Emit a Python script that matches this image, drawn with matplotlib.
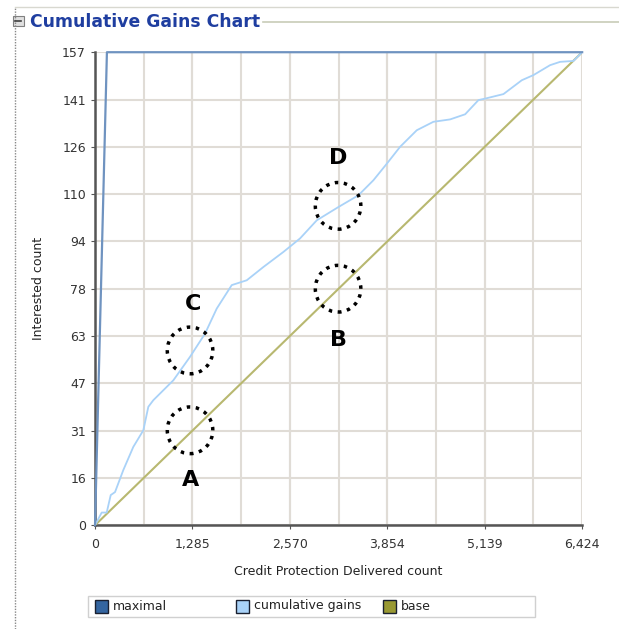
import matplotlib.pyplot as plt
from matplotlib.patches import Ellipse, Rectangle
from matplotlib.lines import Line2D
import numpy as np

# data
total_x = 6424
total_y = 157
maximal_x = [0, 157, 6424]
maximal_y = [0, 157, 157]
base_x = [0, 6424]
base_y = [0, 157]
gains_x = [0, 88, 154, 207, 264, 373, 505, 637, 703, 769, 1033, 1253, 1451, 1605,
           1803, 2001, 2220, 2484, 2704, 2924, 3209, 3473, 3671, 3848, 4023, 4243,
           4462, 4683, 4881, 5056, 5144, 5386, 5628, 5781, 6001, 6133, 6309, 6424]
gains_y = [0, 4.2, 4.2, 10, 11, 18.3, 26, 31.5, 39.3, 41.5, 48.1, 55.9, 63.6, 71.9,
           79.7, 81.3, 85.7, 90.7, 95.2, 101.2, 105.6, 109.5, 114.5, 120.0, 125.6, 131.1,
           133.9, 134.7, 136.4, 141.1, 141.6, 143.1, 147.7, 149.4, 152.7, 153.8, 154.1, 157]
x_ticks = [0, 1285, 2570, 3854, 5139, 6424]
x_tick_labels = ['0', '1,285', '2,570', '3,854', '5,139', '6,424']
y_tick_labels = ['0', '16', '31', '47', '63', '78', '94', '110', '126', '141', '157']
series_names = ['maximal', 'cumulative gains', 'base']
legend_colors = ['#3465a0', '#a9d2f8', '#999933']

# marked spots on the chart (label, circle centre, label position)
marks = [
    ('A', 1253, 31.5, 1253, 15.0),
    ('B', 3205, 78.5, 3205, 61.5),
    ('C', 1253, 58.0, 1290, 73.5),
    ('D', 3205, 106.0, 3205, 122.0),
]

W, H = 619, 629
fig = plt.figure(figsize=(W / 100, H / 100), dpi=100)

# panel header
fig.add_artist(Line2D([0.025, 1.0], [0.989, 0.989], color='#d8d8d0', lw=1))
fig.add_artist(Line2D([0.024, 0.024], [0.0, 0.989], color='#888888', lw=1, ls=(0, (1, 1))))
fig.add_artist(Line2D([0.425, 1.0], [0.965, 0.965], color='#c8ccb8', lw=1.2))
fig.add_artist(Rectangle((0.021, 0.958), 0.017, 0.016, facecolor='#e0e0e0',
                         edgecolor='#808080', lw=0.8))
fig.add_artist(Line2D([0.025, 0.034], [0.966, 0.966], color='#404040', lw=1.2))
fig.text(0.048, 0.965, 'Cumulative Gains Chart', color='#1f3ea0', fontsize=12.4,
         fontweight='bold', va='center', ha='left')

ax = fig.add_axes([0.1535, 0.165, 0.787, 0.752])
ax.set_xlim(0, total_x)
ax.set_ylim(0, total_y)

ax.plot(base_x, base_y, color='#b8b870', lw=1.5, zorder=3)
ax.plot(gains_x, gains_y, color='#a9d2f8', lw=1.3, zorder=4)
ax.plot(maximal_x, maximal_y, color='#6f93c0', lw=1.6, zorder=5, clip_on=False)

y_ticks = np.linspace(0, total_y, len(y_tick_labels))
ax.set_xticks(x_ticks)
ax.set_xticklabels(x_tick_labels)
ax.set_xticks(np.linspace(0, total_x, 11), minor=True)
ax.set_yticks(y_ticks)
ax.set_yticklabels(y_tick_labels)
ax.grid(True, which='both', color='#e0dcd6', lw=1.5)
ax.set_axisbelow(True)
ax.tick_params(axis='both', which='major', labelsize=9, labelcolor='#333333',
               color='#555555', length=3)
ax.tick_params(axis='both', which='minor', length=0)
ax.tick_params(axis='x', pad=6)
for s in ['top', 'right']:
    ax.spines[s].set_visible(False)
for s in ['left', 'bottom']:
    ax.spines[s].set_color('#555555')
    ax.spines[s].set_linewidth(1.8)

ax.set_xlabel('Credit Protection Delivered count', fontsize=9, color='#222222', labelpad=10)
ax.set_ylabel('Interested count', fontsize=9, color='#222222', labelpad=12)

# dotted circles and letters
for label, cx, cy, lx, ly in marks:
    ax.add_patch(Ellipse((cx, cy), 600, 15.5, fill=False, edgecolor='black',
                         lw=2.5, ls=(0, (1, 1.6)), zorder=6))
    ax.text(lx, ly, label, fontsize=16, fontweight='bold', ha='center', va='center',
            zorder=7)

# legend box drawn by hand so item spacing matches
fig.add_artist(Rectangle((88 / W, 1 - 617 / H), 447 / W, 21 / H, facecolor='white',
                         edgecolor='#d0d0d0', lw=1))
item_x = [95, 236, 383]
for x0, name, col in zip(item_x, series_names, legend_colors):
    fig.add_artist(Rectangle((x0 / W, 1 - 613 / H), 13 / W, 13 / H, facecolor=col,
                             edgecolor='#1a2030', lw=1))
    fig.text((x0 + 18) / W, 1 - 606 / H, name, fontsize=9, color='#222222',
             va='center', ha='left')

fig.savefig('out.png', dpi=100)
